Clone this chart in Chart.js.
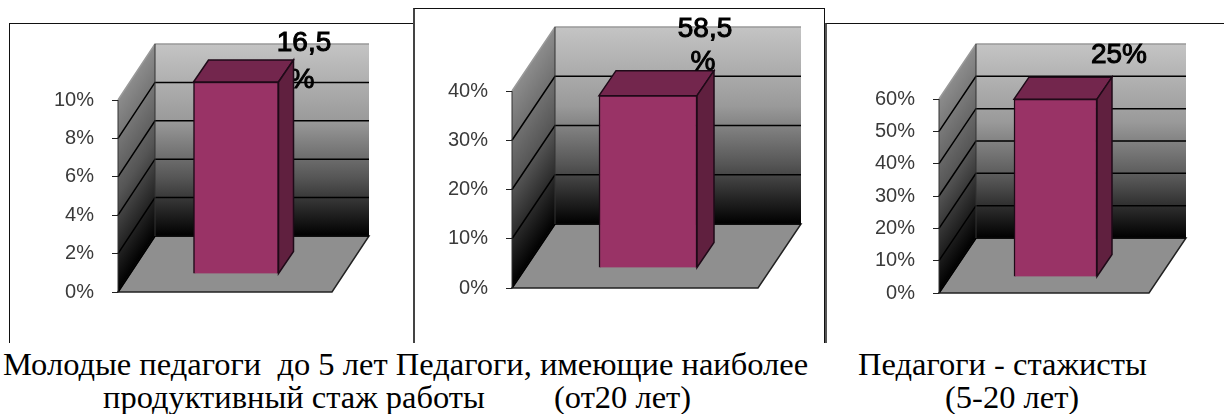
<!DOCTYPE html>
<html>
<head>
<meta charset="utf-8">
<script src="https://cdn.jsdelivr.net/npm/chart.js@4"></script>
<style>
  html, body { margin: 0; padding: 0; background: #fff; width: 1224px; height: 414px; overflow: hidden; }
  canvas { position: absolute; left: 0; top: 0; }
  .frame { position: absolute; background: #fff; border: 1px solid #111; border-bottom: none; box-sizing: border-box; }
  .cap { position: absolute; font: 32.5px "Liberation Serif", serif; color: #000; white-space: pre; line-height: 36px; }
</style>
</head>
<body>
<div class="frame" style="left:9px;top:23px;width:405px;height:320px"></div>
<div class="frame" style="left:413px;top:8px;width:412px;height:335px;border-left-width:2px;border-left-color:#444"></div>
<div class="frame" style="left:825px;top:23px;width:410px;height:320px;border-left-width:2px;border-left-color:#555"></div>
<canvas id="c1" width="1224" height="345"></canvas>
<canvas id="c2" width="1224" height="345"></canvas>
<canvas id="c3" width="1224" height="345"></canvas>
<span class="cap" style="left:3px;top:346px">Молодые педагоги  до 5 лет Педагоги, имеющие наиболее</span>
<span class="cap" style="left:858px;top:346px">Педагоги - стажисты</span>
<span class="cap" style="left:103px;top:379px">продуктивный стаж работы</span>
<span class="cap" style="left:554px;top:379px">(от20 лет)</span>
<span class="cap" style="left:945px;top:379px">(5-20 лет)</span>
<script>
// данные
const categories1 = ['Молодые педагоги до 5 лет'];
const values1 = [10];
const labels1 = ['16,5', '%'];
const categories2 = ['Педагоги, имеющие наиболее продуктивный стаж работы (от20 лет)'];
const values2 = [35];
const labels2 = ['58,5', '%'];
const categories3 = ['Педагоги - стажисты (5-20 лет)'];
const values3 = [55];
const labels3 = ['25%'];

const W = 1224, H = 345, AXIS_W = 70;

// стенки, пол и сетка за столбиком
const wallsPlugin = {
    id: 'walls',
    beforeDraw(chart, args, o) {
        const ctx = chart.ctx;
        const y = chart.scales.y, a = chart.chartArea;
        const top = y.getPixelForValue(y.max), bottom = y.getPixelForValue(0);
        const dx = o.depthX, dy = o.depthY;

        ctx.save();
        // задняя стенка
        let g = ctx.createLinearGradient(0, top + dy, 0, bottom + dy);
        g.addColorStop(0, '#c4c4c4');
        g.addColorStop(0.4, '#9a9a9a');
        g.addColorStop(0.7, '#555555');
        g.addColorStop(1, '#000000');
        ctx.fillStyle = g;
        ctx.fillRect(a.left + dx, top + dy, a.right - a.left, bottom - top);

        // боковая стенка (сдвиг вдоль глубины)
        ctx.save();
        ctx.transform(1, dy / dx, 0, 1, 0, -a.left * dy / dx);
        g = ctx.createLinearGradient(0, top, 0, bottom);
        g.addColorStop(0, '#8c8c8c');
        g.addColorStop(0.5, '#555555');
        g.addColorStop(1, '#000000');
        ctx.fillStyle = g;
        ctx.fillRect(a.left, top, dx, bottom - top);
        ctx.restore();

        // пол
        ctx.fillStyle = '#8f8f8f';
        ctx.beginPath();
        ctx.moveTo(a.left, bottom);
        ctx.lineTo(a.right, bottom);
        ctx.lineTo(a.right + dx, bottom + dy);
        ctx.lineTo(a.left + dx, bottom + dy);
        ctx.closePath();
        ctx.fill();
        ctx.strokeStyle = '#222';
        ctx.lineWidth = 1.5;
        ctx.stroke();

        // линии сетки
        y.ticks.forEach(t => {
            const py = y.getPixelForValue(t.value);
            ctx.strokeStyle = t.value === y.max ? '#999' : '#000';
            ctx.beginPath();
            ctx.moveTo(a.left, py);
            ctx.lineTo(a.left + dx, py + dy);
            ctx.lineTo(a.right + dx, py + dy);
            ctx.stroke();
        });
        ctx.lineWidth = 1;
        ctx.strokeStyle = '#333';
        ctx.beginPath();
        ctx.moveTo(a.left, top);
        ctx.lineTo(a.left, bottom);
        ctx.moveTo(a.left + dx, top + dy);
        ctx.lineTo(a.left + dx, bottom + dy);
        ctx.stroke();
        ctx.restore();
    },
    beforeDatasetDraw(chart, args, o) {
        const ctx = chart.ctx;
        if (o.labelBehind) drawLabels(chart, o);
        ctx.save();
        ctx.translate(o.barShiftX, o.barShiftY);
        const b = chart.getDatasetMeta(args.index).data[0];
        const l = b.x - b.width / 2, r = b.x + b.width / 2;
        ctx.lineWidth = 1.5;
        ctx.strokeStyle = '#1f0a18';
        // верхняя грань
        ctx.fillStyle = '#73264d';
        ctx.beginPath();
        ctx.moveTo(l, b.y);
        ctx.lineTo(l + o.barDepthX, b.y + o.barDepthY);
        ctx.lineTo(r + o.barDepthX, b.y + o.barDepthY);
        ctx.lineTo(r, b.y);
        ctx.closePath();
        ctx.fill();
        ctx.stroke();
        // боковая грань
        ctx.fillStyle = '#60203f';
        ctx.beginPath();
        ctx.moveTo(r, b.y);
        ctx.lineTo(r + o.barDepthX, b.y + o.barDepthY);
        ctx.lineTo(r + o.barDepthX, b.base + o.barDepthY);
        ctx.lineTo(r, b.base);
        ctx.closePath();
        ctx.fill();
        ctx.stroke();
    },
    afterDatasetDraw(chart, args, o) {
        chart.ctx.restore();
        if (!o.labelBehind) drawLabels(chart, o);
    }
};

// подписи значений
function drawLabels(chart, o) {
    const ctx = chart.ctx;
    ctx.save();
    ctx.fillStyle = '#000';
    ctx.font = '28px "Liberation Sans", Arial, sans-serif';
    ctx.textAlign = 'center';
    ctx.textBaseline = 'middle';
    ctx.lineWidth = 1;
    ctx.strokeStyle = '#000';
    o.labels.forEach((text, i) => {
        const p = o.labelPos[i];
        ctx.fillText(text, p[0], p[1]);
        ctx.strokeText(text, p[0], p[1]);
    });
    ctx.restore();
}

function makeChart(id, categories, values, max, step, box, walls) {
    return new Chart(document.getElementById(id), {
        type: 'bar',
        data: {
            labels: categories,
            datasets: [{
                data: values,
                backgroundColor: '#993366',
                borderColor: '#1f0a18',
                borderWidth: 1.5,
                barThickness: box.bar,
                clip: false
            }]
        },
        options: {
            responsive: false,
            animation: false,
            layout: { padding: { left: box.left - AXIS_W, top: box.top, right: W - box.right, bottom: H - box.bottom } },
            plugins: { legend: { display: false }, tooltip: { enabled: false }, walls: walls },
            scales: {
                x: { display: false },
                y: {
                    min: 0,
                    max: max,
                    afterFit(scale) { scale.width = AXIS_W; },
                    ticks: {
                        stepSize: step,
                        color: '#3a3a3a',
                        padding: 18,
                        font: { family: '"Liberation Sans", Arial, sans-serif', size: 20 },
                        callback: v => v + '%'
                    },
                    grid: { drawOnChartArea: false, drawTicks: true, tickLength: 6, tickColor: '#222' },
                    border: { display: false }
                }
            }
        },
        plugins: [wallsPlugin]
    });
}

makeChart('c1', categories1, values1, 10, 2,
    { left: 118, right: 332, top: 100, bottom: 292, bar: 85 },
    { depthX: 37, depthY: -56, barShiftX: 11, barShiftY: -18, barDepthX: 15, barDepthY: -22,
      labels: labels1, labelPos: [[304, 43], [302, 80]], labelBehind: true });
makeChart('c2', categories2, values2, 40, 10,
    { left: 512, right: 758, top: 91, bottom: 288, bar: 98 },
    { depthX: 43, depthY: -64, barShiftX: 13, barShiftY: -20, barDepthX: 17, barDepthY: -25,
      labels: labels2, labelPos: [[705, 29], [703, 62]], labelBehind: false });
makeChart('c3', categories3, values3, 60, 10,
    { left: 939, right: 1149, top: 99, bottom: 293, bar: 83 },
    { depthX: 37, depthY: -55, barShiftX: 11.5, barShiftY: -16, barDepthX: 15, barDepthY: -22,
      labels: labels3, labelPos: [[1119, 55]], labelBehind: false });
</script>
</body>
</html>
